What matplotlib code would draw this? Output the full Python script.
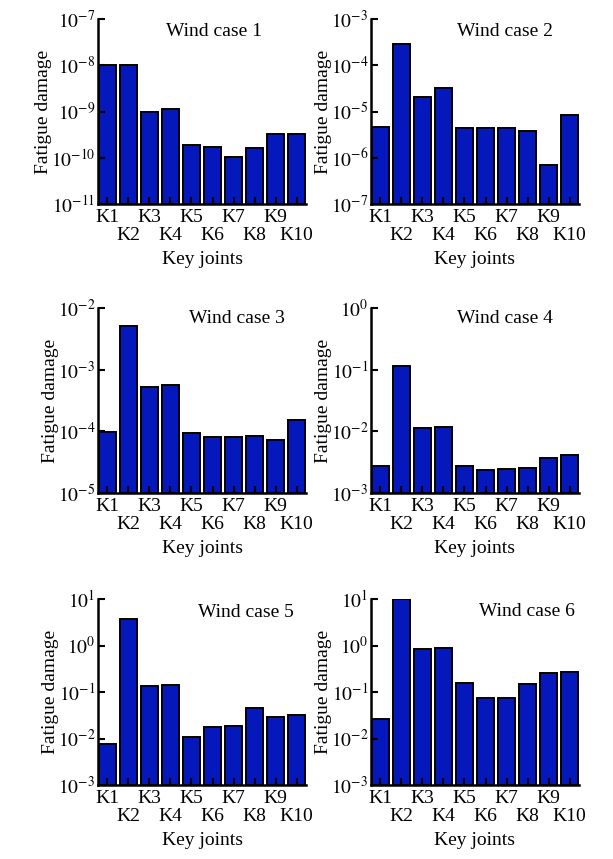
import matplotlib
matplotlib.use("Agg")
import matplotlib.pyplot as plt
import numpy as np

plt.rcParams['font.family'] = ['Liberation Serif', 'DejaVu Serif']
plt.rcParams['mathtext.fontset'] = 'stix'

joints = ['K1', 'K2', 'K3', 'K4', 'K5', 'K6', 'K7', 'K8', 'K9', 'K10']

case1 = [1.0e-8, 1.0e-8, 9.6e-10, 1.15e-9, 1.75e-10, 1.6e-10, 9.2e-11, 1.5e-10, 3.15e-10, 3.15e-10]
case2 = [4.5e-6, 2.9e-4, 2.1e-5, 3.2e-5, 4.4e-6, 4.2e-6, 4.3e-6, 3.7e-6, 5.8e-7, 8.4e-6]
case3 = [8.7e-5, 5.1e-3, 5.1e-4, 5.6e-4, 8.3e-5, 7.1e-5, 7.1e-5, 7.3e-5, 6.3e-5, 1.42e-4]
case4 = [1.75e-3, 0.112, 1.05e-2, 1.08e-2, 1.73e-3, 1.4e-3, 1.42e-3, 1.58e-3, 2.7e-3, 3.1e-3]
case5 = [6.7e-3, 3.7, 0.131, 0.138, 9.6e-3, 1.66e-2, 1.72e-2, 4.4e-2, 2.73e-2, 3.1e-2]
case6 = [2.47e-2, 10.0, 0.84, 0.88, 0.155, 7.2e-2, 7.2e-2, 0.147, 0.25, 0.27]

cases = [case1, case2, case3, case4, case5, case6]
titles = ['Wind case 1', 'Wind case 2', 'Wind case 3', 'Wind case 4', 'Wind case 5', 'Wind case 6']
ylims = [(1e-11, 1e-7), (1e-7, 1e-3), (1e-5, 1e-2), (1e-3, 1e0), (1e-3, 1e1), (1e-3, 1e1)]
title_pos = [(0.56, 0.93), (0.645, 0.93), (0.67, 0.945), (0.645, 0.945), (0.71, 0.93), (0.75, 0.935)]

W, H = 613, 859
fig = plt.figure(figsize=(W / 100, H / 100), dpi=100)

lefts = [98, 371]
rows = [(19, 204), (308, 493), (599, 785)]

x = np.arange(len(joints))
for i, vals in enumerate(cases):
    r, c = divmod(i, 2)
    top, bot = rows[r]
    ax = fig.add_axes([lefts[c] / W, (H - bot) / H, 208 / W, (bot - top) / H])
    ax.set_yscale('log')
    lo, hi = ylims[i]
    ax.bar(x, vals, width=0.8, color='#0418bc', edgecolor='black', linewidth=1.4,
           bottom=lo)
    ax.set_ylim(lo, hi)
    ax.set_xlim(-0.45, 9.45)
    exps = np.arange(np.log10(lo), np.log10(hi) + 1).astype(int)
    ax.set_yticks([10.0 ** e for e in exps])
    ax.set_yticklabels([r'$10^{%d}$' % e for e in exps])
    ax.yaxis.set_minor_locator(matplotlib.ticker.NullLocator())
    ax.set_xticks(x)
    ax.set_xticklabels(joints)
    ax.tick_params(axis='both', direction='in', length=5, width=1.5, labelsize=14,
                   color='black')
    ax.tick_params(axis='y', pad=2)
    # stagger the joint labels on two rows
    for k, t in enumerate(ax.xaxis.get_major_ticks()):
        t.set_pad(3.5 if k % 2 == 0 else 16.5)
    for s in ['top', 'right']:
        ax.spines[s].set_visible(False)
    for s in ['left', 'bottom']:
        ax.spines[s].set_linewidth(1.8)
    ax.set_ylabel('Fatigue damage', fontsize=14, labelpad=-1)
    ax.set_xlabel('Key joints', fontsize=14, labelpad=5)
    ax.text(title_pos[i][0], title_pos[i][1], titles[i], transform=ax.transAxes,
            ha='center', va='center', fontsize=14)

fig.savefig('out.png', dpi=100)
